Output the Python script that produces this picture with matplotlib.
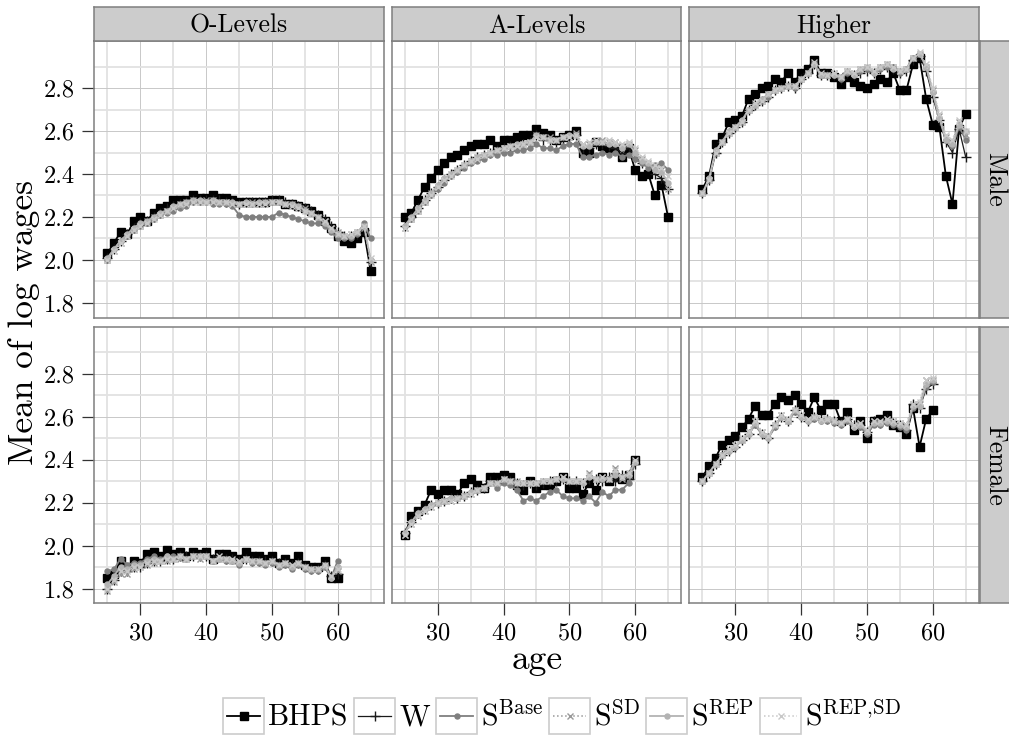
import numpy as np
import matplotlib
matplotlib.use('Agg')
import matplotlib.pyplot as plt
from matplotlib.lines import Line2D
from matplotlib.patches import Rectangle

plt.rcParams['font.family'] = ['cmr10', 'DejaVu Serif']
plt.rcParams['mathtext.fontset'] = 'cm'
plt.rcParams['axes.formatter.use_mathtext'] = True
plt.rcParams['xtick.major.size'] = 8.5
plt.rcParams['ytick.major.size'] = 8.5
plt.rcParams['xtick.major.pad'] = 5.5
plt.rcParams['ytick.major.pad'] = 5.5
plt.rcParams['xtick.direction'] = 'out'
plt.rcParams['ytick.direction'] = 'out'

## Data
ages_m = list(range(25, 66))
ages_f = list(range(25, 61))

sexes = ['Male', 'Female']
levels = ['O-Levels', 'A-Levels', 'Higher']
series = ['BHPS', 'W', r'S$^{\mathrm{Base}}$', r'S$^{\mathrm{SD}}$',
          r'S$^{\mathrm{REP}}$', r'S$^{\mathrm{REP{,}SD}}$']

# Male, O-Levels
bhps_m_o = [2.03,2.08,2.13,2.12,2.18,2.20,2.18,2.22,2.24,2.25,2.28,2.28,2.28,2.30,2.29,2.29,2.30,2.29,2.29,2.28,2.27,
            2.27,2.27,2.27,2.27,2.28,2.28,2.26,2.26,2.25,2.24,2.23,2.21,2.18,2.15,2.11,2.09,2.08,2.10,2.13,1.95]
w_m_o = [2.01,2.05,2.09,2.12,2.15,2.17,2.18,2.20,2.22,2.24,2.25,2.26,2.27,2.28,2.28,2.28,2.28,2.28,2.27,2.27,2.26,
         2.27,2.27,2.27,2.27,2.28,2.28,2.27,2.26,2.25,2.24,2.23,2.21,2.19,2.16,2.13,2.11,2.11,2.12,2.14,1.99]
base_m_o = [2.00,2.05,2.09,2.11,2.14,2.16,2.17,2.19,2.21,2.22,2.23,2.24,2.25,2.27,2.27,2.27,2.26,2.26,2.26,2.25,2.21,
            2.20,2.20,2.20,2.20,2.20,2.22,2.21,2.20,2.19,2.18,2.17,2.17,2.16,2.13,2.10,2.10,2.10,2.12,2.17,2.10]
sd_m_o = [2.00,2.04,2.08,2.11,2.14,2.16,2.18,2.20,2.21,2.23,2.24,2.25,2.27,2.28,2.27,2.28,2.28,2.27,2.27,2.26,2.26,
          2.26,2.27,2.26,2.27,2.27,2.27,2.26,2.26,2.25,2.24,2.22,2.20,2.18,2.15,2.13,2.11,2.12,2.13,2.15,1.99]
rep_m_o = [2.01,2.05,2.09,2.12,2.15,2.17,2.18,2.20,2.22,2.23,2.25,2.26,2.27,2.28,2.28,2.27,2.28,2.27,2.27,2.27,2.26,
           2.27,2.26,2.27,2.27,2.27,2.27,2.26,2.26,2.25,2.23,2.22,2.20,2.17,2.14,2.12,2.11,2.11,2.13,2.16,2.00]
repsd_m_o = [2.00,2.04,2.08,2.11,2.14,2.16,2.17,2.19,2.21,2.23,2.24,2.26,2.26,2.27,2.27,2.27,2.27,2.27,2.27,2.26,2.26,
             2.26,2.26,2.26,2.26,2.27,2.27,2.26,2.25,2.24,2.23,2.22,2.20,2.18,2.15,2.12,2.11,2.12,2.13,2.16,2.01]

# Male, A-Levels
bhps_m_a = [2.20,2.22,2.28,2.34,2.38,2.42,2.45,2.48,2.49,2.51,2.53,2.54,2.54,2.56,2.53,2.56,2.56,2.57,2.58,2.58,2.61,
            2.59,2.58,2.56,2.57,2.58,2.60,2.50,2.50,2.55,2.53,2.52,2.52,2.48,2.52,2.42,2.39,2.40,2.30,2.35,2.20]
w_m_a = [2.16,2.20,2.24,2.28,2.31,2.34,2.37,2.40,2.42,2.44,2.46,2.48,2.49,2.50,2.51,2.52,2.53,2.53,2.54,2.55,2.58,
         2.56,2.56,2.55,2.56,2.57,2.58,2.52,2.52,2.54,2.54,2.53,2.52,2.50,2.52,2.48,2.45,2.44,2.40,2.38,2.33]
base_m_a = [2.16,2.19,2.23,2.27,2.30,2.33,2.36,2.39,2.41,2.43,2.45,2.46,2.47,2.49,2.49,2.50,2.50,2.51,2.51,2.52,2.54,
            2.52,2.52,2.51,2.53,2.54,2.54,2.48,2.48,2.49,2.50,2.49,2.50,2.48,2.49,2.47,2.45,2.43,2.44,2.45,2.42]
sd_m_a = [2.15,2.19,2.23,2.27,2.31,2.34,2.37,2.40,2.42,2.44,2.46,2.48,2.49,2.50,2.51,2.52,2.53,2.53,2.54,2.55,2.58,
          2.57,2.57,2.56,2.57,2.57,2.59,2.54,2.54,2.55,2.56,2.55,2.55,2.53,2.54,2.51,2.47,2.45,2.43,2.42,2.33]
rep_m_a = [2.16,2.20,2.24,2.28,2.31,2.35,2.38,2.40,2.42,2.44,2.46,2.48,2.49,2.50,2.51,2.52,2.53,2.54,2.54,2.55,2.58,
           2.57,2.56,2.56,2.57,2.58,2.58,2.53,2.53,2.55,2.55,2.54,2.54,2.52,2.54,2.50,2.46,2.45,2.42,2.41,2.36]
repsd_m_a = [2.15,2.19,2.23,2.27,2.30,2.34,2.37,2.39,2.42,2.44,2.46,2.47,2.49,2.50,2.51,2.52,2.53,2.53,2.54,2.55,2.57,
             2.57,2.56,2.56,2.57,2.57,2.58,2.54,2.55,2.56,2.55,2.56,2.55,2.54,2.55,2.52,2.48,2.46,2.44,2.43,2.39]

# Male, Higher
bhps_m_h = [2.33,2.39,2.54,2.57,2.64,2.65,2.67,2.75,2.77,2.80,2.81,2.84,2.83,2.87,2.83,2.87,2.89,2.93,2.87,2.87,2.85,
            2.82,2.85,2.83,2.81,2.80,2.82,2.84,2.83,2.87,2.79,2.79,2.91,2.94,2.75,2.63,2.62,2.39,2.26,2.61,2.68]
w_m_h = [2.31,2.37,2.50,2.55,2.59,2.62,2.64,2.70,2.72,2.74,2.76,2.79,2.80,2.81,2.80,2.84,2.87,2.91,2.86,2.86,2.86,
         2.84,2.87,2.86,2.87,2.88,2.87,2.89,2.90,2.89,2.87,2.88,2.93,2.95,2.88,2.76,2.65,2.55,2.50,2.61,2.48]
base_m_h = [2.31,2.37,2.50,2.55,2.59,2.62,2.64,2.70,2.72,2.74,2.76,2.79,2.80,2.81,2.80,2.84,2.87,2.91,2.86,2.86,2.86,
            2.84,2.87,2.86,2.88,2.89,2.87,2.89,2.90,2.90,2.87,2.89,2.94,2.96,2.90,2.78,2.66,2.56,2.53,2.62,2.56]
sd_m_h = [2.31,2.37,2.50,2.55,2.59,2.62,2.64,2.70,2.72,2.74,2.77,2.79,2.80,2.81,2.81,2.84,2.87,2.91,2.86,2.86,2.87,
          2.85,2.88,2.87,2.89,2.90,2.88,2.90,2.91,2.90,2.88,2.89,2.94,2.96,2.90,2.79,2.67,2.57,2.55,2.64,2.58]
rep_m_h = [2.31,2.38,2.51,2.55,2.60,2.62,2.65,2.70,2.72,2.75,2.77,2.79,2.80,2.81,2.81,2.84,2.87,2.91,2.86,2.86,2.86,
           2.85,2.88,2.86,2.89,2.90,2.87,2.90,2.91,2.89,2.88,2.89,2.94,2.96,2.90,2.78,2.66,2.56,2.54,2.63,2.60]
repsd_m_h = [2.31,2.37,2.50,2.55,2.59,2.62,2.64,2.70,2.73,2.74,2.77,2.79,2.80,2.81,2.81,2.84,2.87,2.92,2.87,2.86,2.87,
             2.85,2.88,2.87,2.89,2.90,2.88,2.90,2.91,2.90,2.88,2.89,2.94,2.97,2.91,2.80,2.68,2.58,2.56,2.65,2.60]

# Female, O-Levels
bhps_f_o = [1.85,1.87,1.93,1.90,1.93,1.92,1.96,1.97,1.95,1.98,1.96,1.97,1.95,1.97,1.96,1.97,1.94,1.96,
            1.96,1.95,1.94,1.97,1.95,1.95,1.94,1.95,1.92,1.94,1.92,1.95,1.91,1.90,1.90,1.93,1.85,1.85]
w_f_o = [1.80,1.84,1.88,1.88,1.90,1.90,1.92,1.93,1.93,1.94,1.94,1.95,1.95,1.95,1.95,1.95,1.94,1.95,
         1.94,1.94,1.93,1.94,1.93,1.93,1.93,1.93,1.92,1.92,1.91,1.92,1.90,1.89,1.89,1.91,1.86,1.87]
base_f_o = [1.88,1.89,1.94,1.91,1.92,1.92,1.94,1.95,1.94,1.95,1.95,1.95,1.94,1.95,1.95,1.95,1.93,1.94,
            1.93,1.93,1.91,1.94,1.92,1.92,1.91,1.92,1.90,1.91,1.89,1.91,1.89,1.88,1.88,1.90,1.85,1.93]
sd_f_o = [1.79,1.83,1.87,1.87,1.89,1.90,1.91,1.92,1.93,1.93,1.94,1.94,1.94,1.95,1.94,1.95,1.93,1.94,
          1.94,1.93,1.93,1.94,1.93,1.93,1.92,1.93,1.91,1.92,1.91,1.92,1.90,1.89,1.89,1.90,1.86,1.88]
rep_f_o = [1.82,1.86,1.90,1.89,1.91,1.91,1.93,1.94,1.93,1.95,1.94,1.95,1.94,1.95,1.95,1.95,1.93,1.94,
           1.94,1.93,1.92,1.94,1.93,1.93,1.92,1.93,1.91,1.92,1.90,1.92,1.90,1.89,1.89,1.91,1.85,1.90]
repsd_f_o = [1.80,1.84,1.88,1.88,1.90,1.90,1.92,1.93,1.93,1.94,1.94,1.95,1.94,1.95,1.95,1.95,1.93,1.95,
             1.94,1.94,1.93,1.94,1.93,1.93,1.92,1.93,1.91,1.92,1.91,1.92,1.90,1.89,1.89,1.91,1.86,1.89]

# Female, A-Levels
bhps_f_a = [2.05,2.14,2.16,2.19,2.26,2.24,2.26,2.26,2.24,2.29,2.31,2.28,2.27,2.32,2.32,2.33,2.32,2.28,
            2.26,2.30,2.27,2.28,2.28,2.30,2.32,2.27,2.27,2.24,2.29,2.26,2.32,2.30,2.32,2.31,2.33,2.40]
w_f_a = [2.06,2.11,2.15,2.17,2.19,2.20,2.21,2.22,2.22,2.23,2.25,2.26,2.27,2.30,2.29,2.31,2.30,2.29,
         2.28,2.29,2.28,2.29,2.30,2.30,2.31,2.30,2.30,2.29,2.31,2.31,2.30,2.32,2.30,2.33,2.31,2.38]
base_f_a = [2.06,2.11,2.15,2.17,2.19,2.20,2.21,2.22,2.22,2.23,2.25,2.26,2.27,2.29,2.27,2.29,2.28,2.26,
            2.21,2.22,2.21,2.23,2.25,2.26,2.23,2.22,2.22,2.21,2.23,2.20,2.25,2.23,2.26,2.26,2.29,2.39]
sd_f_a = [2.05,2.10,2.14,2.16,2.18,2.20,2.21,2.21,2.22,2.23,2.24,2.26,2.27,2.29,2.29,2.31,2.30,2.30,
          2.29,2.29,2.29,2.30,2.30,2.31,2.32,2.30,2.30,2.30,2.34,2.31,2.32,2.31,2.36,2.31,2.33,2.39]
rep_f_a = [2.06,2.11,2.15,2.17,2.19,2.20,2.21,2.22,2.22,2.23,2.25,2.26,2.27,2.29,2.29,2.31,2.30,2.29,
           2.29,2.29,2.29,2.30,2.30,2.31,2.31,2.30,2.30,2.29,2.32,2.31,2.31,2.31,2.33,2.32,2.33,2.39]
repsd_f_a = [2.05,2.10,2.14,2.16,2.18,2.20,2.21,2.21,2.22,2.23,2.24,2.26,2.27,2.29,2.29,2.31,2.30,2.29,
             2.29,2.29,2.29,2.30,2.30,2.31,2.32,2.30,2.30,2.30,2.33,2.31,2.32,2.31,2.35,2.32,2.34,2.40]

# Female, Higher
bhps_f_h = [2.32,2.37,2.41,2.47,2.49,2.51,2.55,2.59,2.65,2.61,2.61,2.66,2.69,2.68,2.70,2.66,2.62,2.69,
            2.63,2.66,2.66,2.58,2.62,2.54,2.58,2.50,2.58,2.59,2.61,2.56,2.55,2.52,2.64,2.46,2.59,2.63]
w_f_h = [2.30,2.34,2.38,2.42,2.44,2.46,2.49,2.52,2.57,2.52,2.50,2.56,2.60,2.58,2.63,2.60,2.58,2.60,
         2.59,2.59,2.58,2.57,2.59,2.56,2.56,2.53,2.58,2.57,2.59,2.57,2.56,2.54,2.66,2.64,2.73,2.75]
base_f_h = [2.30,2.34,2.38,2.42,2.44,2.46,2.49,2.52,2.56,2.52,2.50,2.55,2.60,2.58,2.62,2.60,2.58,2.59,
            2.58,2.58,2.57,2.56,2.58,2.55,2.55,2.52,2.56,2.56,2.57,2.56,2.55,2.54,2.64,2.65,2.74,2.76]
sd_f_h = [2.30,2.34,2.38,2.42,2.45,2.47,2.49,2.53,2.58,2.53,2.51,2.56,2.61,2.58,2.63,2.61,2.59,2.60,
          2.59,2.59,2.58,2.57,2.59,2.56,2.57,2.53,2.58,2.57,2.59,2.58,2.57,2.56,2.66,2.66,2.77,2.77]
rep_f_h = [2.30,2.34,2.38,2.42,2.44,2.46,2.49,2.52,2.57,2.52,2.50,2.56,2.60,2.58,2.63,2.60,2.58,2.60,
           2.58,2.59,2.58,2.57,2.59,2.55,2.56,2.53,2.57,2.57,2.58,2.57,2.56,2.55,2.65,2.65,2.75,2.77]
repsd_f_h = [2.30,2.34,2.38,2.42,2.45,2.47,2.50,2.53,2.58,2.53,2.51,2.56,2.61,2.59,2.63,2.61,2.59,2.60,
             2.59,2.59,2.58,2.57,2.59,2.56,2.57,2.54,2.58,2.58,2.59,2.58,2.57,2.56,2.66,2.67,2.77,2.78]

panels = {
    ('Male', 'O-Levels'): [bhps_m_o, w_m_o, base_m_o, sd_m_o, rep_m_o, repsd_m_o],
    ('Male', 'A-Levels'): [bhps_m_a, w_m_a, base_m_a, sd_m_a, rep_m_a, repsd_m_a],
    ('Male', 'Higher'): [bhps_m_h, w_m_h, base_m_h, sd_m_h, rep_m_h, repsd_m_h],
    ('Female', 'O-Levels'): [bhps_f_o, w_f_o, base_f_o, sd_f_o, rep_f_o, repsd_f_o],
    ('Female', 'A-Levels'): [bhps_f_a, w_f_a, base_f_a, sd_f_a, rep_f_a, repsd_f_a],
    ('Female', 'Higher'): [bhps_f_h, w_f_h, base_f_h, sd_f_h, rep_f_h, repsd_f_h],
}

styles = [
    dict(color='#000000', marker='s', ms=5.5, lw=1.3, ls='-'),
    dict(color='#1a1a1a', marker='+', ms=7, mew=1.0, lw=0.9, ls='-'),
    dict(color='#7f7f7f', marker='o', ms=3.6, lw=1.3, ls='-'),
    dict(color='#999999', marker='x', ms=5, mew=1.0, lw=1.1, ls=':'),
    dict(color='#b3b3b3', marker='o', ms=3.6, lw=1.3, ls='-'),
    dict(color='#c8c8c8', marker='x', ms=5, mew=1.0, lw=1.1, ls=':'),
]

## Layout (pixels)
W, H = 1009, 753
col_left = [94.3, 391.7, 689.3]
col_w = 289.5
row_top = [41.0, 326.7]
row_h = 276.5
strip = 33.7
fs_tick = 17.5
fs_strip = 18.5
fs_legend = 21.5
fs_title = 25.5


def fx(px):
    return px / W


def fy(py):
    return 1 - py / H


def grey_box(a):
    a.set_facecolor('#cccccc')
    a.set_xticks([])
    a.set_yticks([])
    for s in a.spines.values():
        s.set_color('#7f7f7f')
        s.set_linewidth(1.1)


fig = plt.figure(figsize=(W / 100, H / 100), dpi=100)

for i, sex in enumerate(sexes):
    ages = ages_m if sex == 'Male' else ages_f
    for j, lev in enumerate(levels):
        ax = fig.add_axes([fx(col_left[j]), fy(row_top[i] + row_h), col_w / W, row_h / H])
        for vals, st in zip(panels[(sex, lev)], styles):
            ax.plot(ages, vals, **st)
        ax.set_xlim(23, 67)
        ax.set_ylim(1.732, 3.019)
        ax.set_xticks([30, 40, 50, 60])
        ax.set_xticks([25, 35, 45, 55, 65], minor=True)
        ax.set_yticks([1.8, 2.0, 2.2, 2.4, 2.6, 2.8])
        ax.set_yticks([1.9, 2.1, 2.3, 2.5, 2.7, 2.9], minor=True)
        ax.set_yticklabels(['1.8', '2.0', '2.2', '2.4', '2.6', '2.8'])
        ax.set_axisbelow(True)
        ax.grid(which='major', color='#c8c8c8', lw=0.7)
        ax.grid(which='minor', color='#e2e2e2', lw=1.3)
        for s in ax.spines.values():
            s.set_color('#7f7f7f')
            s.set_linewidth(1.1)
        ax.tick_params(which='minor', length=0)
        ax.tick_params(which='major', width=0.9, color='#333333', labelsize=fs_tick)
        ax.tick_params(axis='y', left=(j == 0), labelleft=(j == 0))
        ax.tick_params(axis='x', bottom=(i == 1), labelbottom=(i == 1))

        # column strips
        if i == 0:
            sa = fig.add_axes([fx(col_left[j]), fy(row_top[0]), col_w / W, strip / H])
            grey_box(sa)
            sa.text(0.5, 0.45, lev, ha='center', va='center', fontsize=fs_strip, transform=sa.transAxes)

    # row strips
    ra = fig.add_axes([fx(979.5), fy(row_top[i] + row_h), 34 / W, row_h / H])
    grey_box(ra)
    fig.text(fx(995.0), fy(row_top[i] + row_h / 2), sex, rotation=-90, ha='center', va='center',
             fontsize=fs_strip)

# axis titles
fig.text(fx(24), fy(322), 'Mean of log wages', rotation=90, ha='center', va='center', fontsize=fs_title)
fig.text(fx(537), fy(660), 'age', ha='center', va='center', fontsize=fs_title)

# legend, ggplot style: boxed keys in one row
fig.canvas.draw()
r = fig.canvas.get_renderer()
key_w, key_h = 41, 36
yc = 716
labels = [fig.text(0, fy(yc + 9), lab, fontsize=fs_legend, ha='left', va='baseline') for lab in series]
widths = [t.get_window_extent(r).width for t in labels]
total = sum(key_w + 4 + w + 6 for w in widths) - 6
x = 562 - total / 2
for t, w, st in zip(labels, widths, styles):
    fig.add_artist(Rectangle((fx(x), fy(yc + key_h / 2)), key_w / W, key_h / H,
                             transform=fig.transFigure, fc='white', ec='#cccccc', lw=1.2))
    fig.add_artist(Line2D([fx(x + 4), fx(x + key_w / 2), fx(x + key_w - 4)], [fy(yc)] * 3,
                          transform=fig.transFigure, markevery=[1], **st))
    t.set_position((fx(x + key_w + 4), fy(yc + 9)))
    x += key_w + 4 + w + 6

fig.savefig('out.png', dpi=100)
